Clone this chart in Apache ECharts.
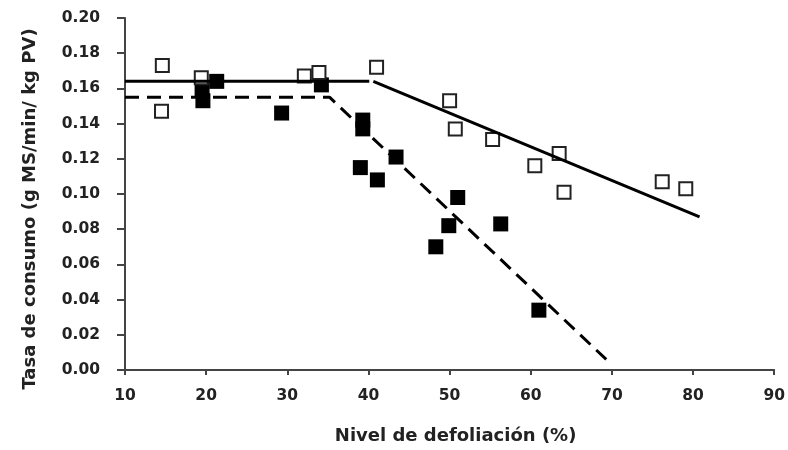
<!DOCTYPE html>
<html>
<head>
    <meta http-equiv="Content-Type" content="text/html; charset=utf-8" />
    <title>Tasa de consumo</title>
    <script type="text/javascript" src="https://cdn.jsdelivr.net/npm/echarts@6/dist/echarts.min.js"></script>
</head>
<style type="text/css">
    html, body{ margin: 0; padding: 0; background: #fff; }
    #chart{ width: 788px; height: 450px; }
</style>
<body>
    <div id="chart"></div>
</body>
</html>
<script>
    // datos
    var xTicks = [10, 20, 30, 40, 50, 60, 70, 80, 90];
    var yTicks = [0, 0.02, 0.04, 0.06, 0.08, 0.10, 0.12, 0.14, 0.16, 0.18, 0.20];

    // cuadrados blancos
    var openX = [14.6, 14.5, 19.4, 32.1, 33.9, 41.0, 50.0, 50.7, 55.3, 60.5, 63.5, 64.1, 76.2, 79.1];
    var openY = [0.173, 0.147, 0.166, 0.167, 0.169, 0.172, 0.153, 0.137, 0.131, 0.116, 0.123, 0.101, 0.107, 0.103];

    // cuadrados negros
    var fillX = [21.3, 19.5, 19.6, 29.3, 34.2, 39.3, 39.3, 43.4, 39.0, 41.1, 51.0, 49.9, 56.3, 48.3, 61.0];
    var fillY = [0.164, 0.159, 0.153, 0.146, 0.162, 0.142, 0.137, 0.121, 0.115, 0.108, 0.098, 0.082, 0.083, 0.070, 0.034];

    // rectas de ajuste
    var solidFlatX = [10, 40.1];
    var solidFlatY = [0.164, 0.164];
    var solidSlopeX = [40.6, 80.8];
    var solidSlopeY = [0.164, 0.087];
    var dashX = [10, 35.2, 69.3];
    var dashY = [0.155, 0.155, 0.006];

    function pairs(xs, ys){
        var out = [];
        for (var i = 0; i < xs.length; i++) out.push([xs[i], ys[i]]);
        return out;
    }

    var font = 'DejaVu Sans';
    var txt = '#222';

    var myChart = echarts.init(document.getElementById('chart'), null, {renderer: 'canvas'});
    var option = {
        animation: false,
        grid: { left: 125, right: 5, top: 18, bottom: 78 },
        xAxis: {
            type: 'value',
            min: xTicks[0],
            max: xTicks[xTicks.length - 1],
            interval: 10,
            name: 'Nivel de defoliación (%)',
            nameLocation: 'middle',
            nameGap: 57,
            nameTextStyle: { fontFamily: font, fontWeight: 'bold', fontSize: 18, color: txt, padding: [0, 0, 0, 12] },
            axisLine: { lineStyle: { color: '#444', width: 2 } },
            axisTick: { show: true, length: 5, lineStyle: { color: '#444', width: 2 } },
            axisLabel: { fontFamily: font, fontWeight: 'bold', fontSize: 15.5, color: txt, margin: 18 },
            splitLine: { show: false }
        },
        yAxis: {
            type: 'value',
            min: yTicks[0],
            max: yTicks[yTicks.length - 1],
            interval: 0.02,
            name: 'Tasa de consumo (g MS/min/ kg PV)',
            nameLocation: 'middle',
            nameGap: 86,
            nameTextStyle: { fontFamily: font, fontWeight: 'bold', fontSize: 18, color: txt, padding: [0, 30, 0, 0] },
            axisLine: { show: true, lineStyle: { color: '#444', width: 2 } },
            axisTick: { show: true, length: 8, lineStyle: { color: '#444', width: 2 } },
            axisLabel: {
                fontFamily: font, fontWeight: 'bold', fontSize: 15.5, color: txt, margin: 25,
                formatter: function (v) { return v.toFixed(2); }
            },
            splitLine: { show: false }
        },
        series: [
            {
                type: 'scatter',
                data: pairs(fillX, fillY),
                symbol: 'rect',
                symbolSize: 15,
                itemStyle: { color: '#000', opacity: 1 },
                z: 2
            },
            {
                type: 'scatter',
                data: pairs(openX, openY),
                symbol: 'rect',
                symbolSize: 13,
                itemStyle: { color: '#fff', borderColor: '#222', borderWidth: 2, opacity: 1 },
                z: 3
            },
            {
                type: 'line',
                data: pairs(solidFlatX, solidFlatY),
                symbol: 'none',
                lineStyle: { color: '#000', width: 3 },
                z: 4
            },
            {
                type: 'line',
                data: pairs(solidSlopeX, solidSlopeY),
                symbol: 'none',
                lineStyle: { color: '#000', width: 3 },
                z: 4
            },
            {
                type: 'line',
                data: pairs(dashX, dashY),
                symbol: 'none',
                lineStyle: { color: '#000', width: 3, type: [14, 8] },
                z: 4
            }
        ]
    };
    myChart.setOption(option);
</script>
